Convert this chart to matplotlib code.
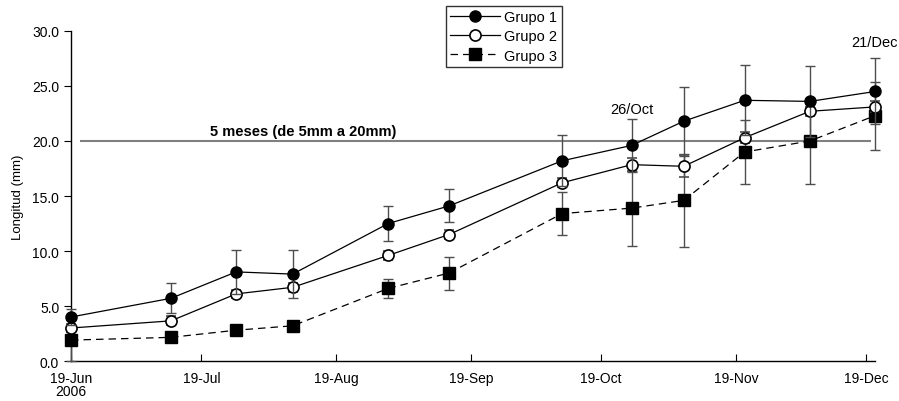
import datetime as dt
import matplotlib
matplotlib.use("Agg")
import matplotlib.pyplot as plt
import matplotlib.dates as mdates
from matplotlib.lines import Line2D

plt.rcParams['font.family'] = ['Liberation Sans', 'DejaVu Sans']

# sampling dates (2006)
dates = [dt.date(2006, 6, 19), dt.date(2006, 7, 12), dt.date(2006, 7, 27),
         dt.date(2006, 8, 9), dt.date(2006, 8, 31), dt.date(2006, 9, 14),
         dt.date(2006, 10, 10), dt.date(2006, 10, 26), dt.date(2006, 11, 7),
         dt.date(2006, 11, 21), dt.date(2006, 12, 6), dt.date(2006, 12, 21)]

grupo1 = [4.0, 5.7, 8.1, 7.9, 12.5, 14.1, 18.2, 19.6, 21.8, 23.7, 23.6, 24.5]
grupo1_err = [0.7, 1.35, 2.0, 2.2, 1.6, 1.5, 2.3, 2.4, 3.15, 3.2, 3.2, 3.0]

grupo2 = [3.0, 3.65, 6.1, 6.7, 9.6, 11.5, 16.2, 17.85, 17.7, 20.3, 22.7, 23.1]
grupo2_err = [0.4, 0.4, 0.4, 0.4, 0.4, 0.4, 0.4, 0.6, 1.0, 0.5, 0.4, 0.5]

grupo3 = [1.9, 2.15, 2.8, 3.2, 6.6, 8.0, 13.4, 13.9, 14.6, 19.0, 20.0, 22.3]
grupo3_err = [1.9, 0.3, 0.3, 0.3, 0.9, 1.5, 1.95, 3.4, 4.2, 2.9, 3.9, 3.1]

tick_dates = [dt.date(2006, m, 19) for m in range(6, 13)]
tick_labels = ['19-Jun\n2006', '19-Jul', '19-Aug', '19-Sep', '19-Oct', '19-Nov', '19-Dec']

limite = 20.0
limite_inicio = dt.date(2006, 6, 21)
limite_fin = dt.date(2006, 12, 20)


def main():
    fig = plt.figure(figsize=(8.99, 4.02), dpi=100)
    ax = fig.add_axes([0.079, 0.0995, 0.8943, 0.8209])

    ax.hlines(limite, limite_inicio, limite_fin, color='#808080', lw=1.5, zorder=1)
    ax.text(dt.date(2006, 7, 21), limite + 0.25, '5 meses (de 5mm a 20mm)',
            fontsize=10.5, fontweight='bold', va='bottom', ha='left')

    common = dict(color='black', lw=0.9, ms=8, ecolor='#4d4d4d', elinewidth=1,
                  capsize=3.5, capthick=1, clip_on=False)
    e3 = ax.errorbar(dates, grupo3, yerr=grupo3_err, marker='s', mfc='black',
                     mec='black', ls=(0, (6, 4)), zorder=3, **common)
    e2 = ax.errorbar(dates, grupo2, yerr=grupo2_err, marker='o', mfc='white',
                     mec='black', mew=1.2, ls='-', zorder=4, **common)
    e1 = ax.errorbar(dates, grupo1, yerr=grupo1_err, marker='o', mfc='black',
                     mec='black', ls='-', zorder=5, **common)
    for e in (e1, e2, e3):
        for part in e.lines[1] + e.lines[2]:
            part.set_clip_on(False)

    ax.annotate('26/Oct', (dates[7], 22.3), ha='center', va='bottom', fontsize=10.5)
    ax.annotate('21/Dec', (dates[11], 28.4), ha='center', va='bottom', fontsize=10.5)

    ax.set_xlim(dt.date(2006, 6, 19), dt.date(2006, 12, 21))
    ax.set_ylim(0, 30)
    ax.set_yticks([0, 5, 10, 15, 20, 25, 30])
    ax.yaxis.set_major_formatter(plt.FormatStrFormatter('%.1f'))
    ax.set_xticks([mdates.date2num(d) for d in tick_dates])
    ax.set_xticklabels(tick_labels, linespacing=0.95)

    ax.tick_params(axis='x', direction='in', length=5, labelsize=10, pad=7)
    ax.tick_params(axis='y', direction='out', length=5, labelsize=10)
    for side in ('top', 'right'):
        ax.spines[side].set_visible(False)
    for side in ('left', 'bottom'):
        ax.spines[side].set_linewidth(1)

    ax.set_ylabel('Longitud (mm)', fontsize=9.5)
    ax.yaxis.set_label_coords(-0.058, 0.5)

    handles = [
        Line2D([], [], color='black', lw=0.9, marker='o', ms=8, mfc='black', mec='black'),
        Line2D([], [], color='black', lw=0.9, marker='o', ms=8, mfc='white', mec='black', mew=1.2),
        Line2D([], [], color='black', lw=0.9, marker='s', ms=8, mfc='black', mec='black',
               ls=(0, (6, 4))),
    ]
    leg = fig.legend(handles, ['Grupo 1', 'Grupo 2', 'Grupo 3'], loc='upper left',
                     bbox_to_anchor=(446 / 899, 1 - 7 / 402), fontsize=10.5,
                     frameon=True, fancybox=False, edgecolor='black',
                     handlelength=3.4, handletextpad=0.3, borderpad=0.3,
                     labelspacing=0.35, borderaxespad=0)
    leg.get_frame().set_linewidth(1)

    fig.savefig('out.png', dpi=100)


if __name__ == "__main__":
    main()
